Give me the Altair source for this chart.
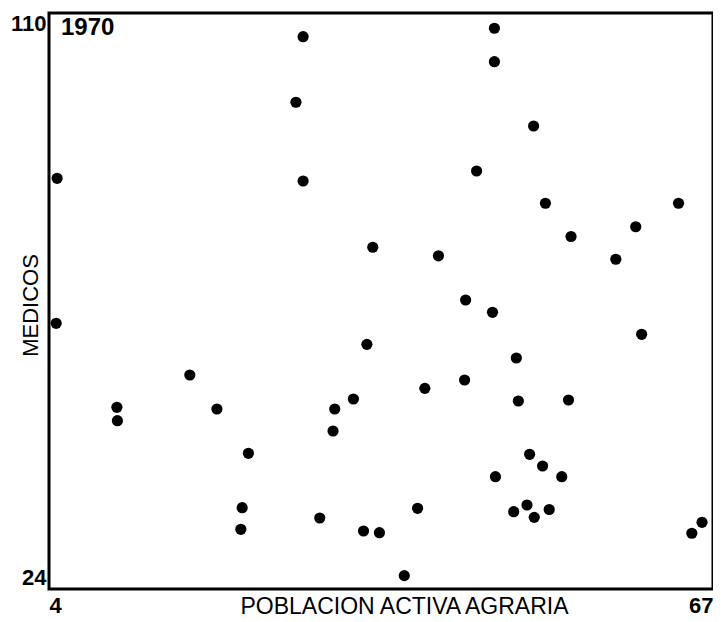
import altair as alt
import pandas as pd

# Data (poblacion activa agraria vs medicos, 1970)
poblacion = [4.77, 4.68, 10.44, 10.49, 17.36, 19.93, 22.92, 22.33, 22.20, 27.43,
             28.11, 28.11, 29.69, 31.11, 30.95, 32.88, 34.16, 34.72, 33.84, 35.35,
             37.71, 38.97, 39.66, 40.95, 43.53, 43.43, 44.57, 46.26, 46.26, 46.08,
             48.34, 48.53, 46.36, 48.09, 49.35, 50.04, 49.60, 50.83, 51.46, 49.98,
             51.10, 53.53, 53.29, 52.65, 57.78, 59.67, 60.23, 63.73, 64.99, 65.96]
medicos = [85.32, 63.67, 51.13, 49.13, 55.95, 50.87, 44.26, 36.14, 32.91, 96.67,
           106.46, 84.92, 34.60, 50.87, 47.59, 52.37, 60.53, 75.02, 32.66, 32.41,
           25.99, 36.05, 53.96, 73.75, 67.15, 55.20, 86.41, 107.72, 102.73, 65.31,
           58.49, 52.07, 40.77, 35.54, 36.54, 34.70, 44.11, 42.36, 35.87, 93.13,
           81.59, 76.63, 52.22, 40.77, 73.23, 78.09, 62.03, 81.59, 32.32, 33.96]

x_ticks = [4, 67]
y_ticks = [24, 110]
year_label = ["1970"]

df = pd.DataFrame({"poblacion": poblacion, "medicos": medicos})
FONT = "Liberation Sans"

points = alt.Chart(df).mark_circle(size=125, color="black", opacity=1).encode(
    x=alt.X("poblacion:Q",
            scale=alt.Scale(domain=x_ticks, nice=False, zero=False),
            axis=alt.Axis(values=x_ticks, title="POBLACION ACTIVA AGRARIA",
                          grid=False, domain=False, ticks=False,
                          labelFlush=True, labelPadding=6,
                          labelFont=FONT, labelFontSize=22, labelFontWeight="bold",
                          labelColor="black",
                          titleFont=FONT, titleFontSize=23, titleFontWeight="normal",
                          titleColor="black", titleX=355, titleY=6,
                          titleBaseline="top", titleAlign="center")),
    y=alt.Y("medicos:Q",
            scale=alt.Scale(domain=y_ticks, nice=False, zero=False),
            axis=alt.Axis(values=y_ticks, title="MEDICOS",
                          grid=False, domain=False, ticks=False,
                          labelFlush=True, labelPadding=3,
                          labelFont=FONT, labelFontSize=22, labelFontWeight="bold",
                          labelColor="black",
                          titleFont=FONT, titleFontSize=22, titleFontWeight="normal",
                          titleColor="black", titleX=-19, titleY=292,
                          titleAngle=270, titleAlign="center",
                          titleBaseline="middle")),
)

label = alt.Chart(pd.DataFrame({"t": year_label})).mark_text(
    font=FONT, fontSize=24, fontWeight="bold", color="black",
    align="left", baseline="top"
).encode(text="t:N", x=alt.value(12), y=alt.value(3))

chart = alt.layer(points, label).properties(
    width=664, height=576,
    padding={"left": 41, "top": 5, "right": 0, "bottom": 28},
    autosize=alt.AutoSizeParams(type="none"),
).configure(
    background="white",
    view=alt.ViewConfig(stroke="black", strokeWidth=3),
)

chart.save("out.html", embed_options={"renderer": "svg", "actions": False})
